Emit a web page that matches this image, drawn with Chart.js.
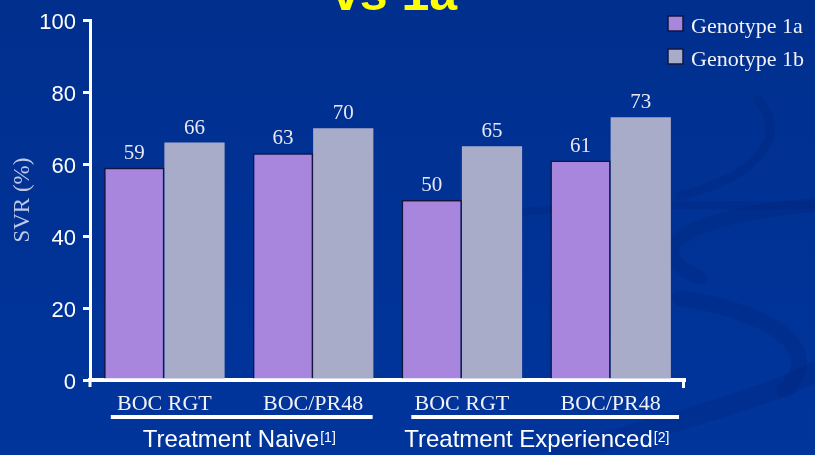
<!DOCTYPE html>
<html>
<head>
<meta charset="utf-8">
<script src="https://cdn.jsdelivr.net/npm/chart.js@4/dist/chart.umd.min.js"></script>
<style>
  html, body { margin: 0; padding: 0; background: #003399; overflow: hidden; }
  canvas { display: block; }
</style>
</head>
<body>
<canvas id="chart" width="815" height="455"></canvas>
<script>
// SVR rates by regimen and genotype
const categories = ['BOC RGT', 'BOC/PR48', 'BOC RGT', 'BOC/PR48'];
const seriesNames = ['Genotype 1a', 'Genotype 1b'];
const genotype1a = [59, 63, 50, 61];
const genotype1b = [66, 70, 65, 73];
const groupNames = ['Treatment Naive', 'Treatment Experienced'];
const groupRefs = ['[1]', '[2]'];
const groupSpans = [[0, 1], [2, 3]];
const yMin = 0, yMax = 100, yStep = 20;
const titleText = 'vs 1a';
const yTitle = 'SVR (%)';

const SERIF = '"Liberation Serif", "Times New Roman", serif';
const SANS = '"Liberation Sans", Arial, sans-serif';

// slide background with soft swoosh bands
const backdrop = {
  id: 'backdrop',
  beforeDraw(chart) {
    const { ctx, width, height } = chart;
    ctx.save();
    const g = ctx.createLinearGradient(0, 0, 0, height);
    g.addColorStop(0, '#002f8e');
    g.addColorStop(1, '#00359c');
    ctx.fillStyle = g;
    ctx.fillRect(0, 0, width, height);
    ctx.strokeStyle = 'rgba(0, 28, 110, 0.2)';
    ctx.lineCap = 'round';
    const band = (w, pts) => {
      ctx.lineWidth = w;
      ctx.beginPath();
      ctx.moveTo(pts[0], pts[1]);
      ctx.bezierCurveTo(pts[2], pts[3], pts[4], pts[5], pts[6], pts[7]);
      ctx.stroke();
    };
    band(9, [680, 196, 760, 175, 790, 135, 758, 100]);
    band(14, [815, 205, 700, 215, 630, 245, 700, 278]);
    band(8, [430, 232, 500, 205, 600, 205, 815, 205]);
    band(16, [680, 298, 760, 310, 830, 345, 785, 390]);
    band(20, [560, 455, 680, 420, 760, 400, 815, 372]);
    // cut-off slide title
    ctx.fillStyle = '#ffff00';
    ctx.font = 'bold 50px ' + SANS;
    ctx.textBaseline = 'alphabetic';
    ctx.textAlign = 'left';
    ctx.fillText(titleText, 332, 10);
    ctx.restore();
  }
};

// value labels above each bar
const valueLabels = {
  id: 'valueLabels',
  afterDatasetsDraw(chart) {
    const { ctx } = chart;
    ctx.save();
    ctx.font = '21px ' + SERIF;
    ctx.fillStyle = '#e8e8f2';
    ctx.textAlign = 'center';
    ctx.textBaseline = 'alphabetic';
    chart.data.datasets.forEach((ds, di) => {
      chart.getDatasetMeta(di).data.forEach((bar, i) => {
        ctx.fillText(String(ds.data[i]), bar.x, bar.y - 9);
      });
    });
    ctx.restore();
  }
};

// axis end marks, group underlines, group captions and legend
const decorations = {
  id: 'decorations',
  afterDraw(chart) {
    const { ctx, chartArea: area } = chart;
    const x = chart.scales.x;
    ctx.save();
    ctx.strokeStyle = '#ffffff';
    ctx.lineWidth = 3;
    ctx.beginPath();
    ctx.moveTo(area.left, area.bottom);
    ctx.lineTo(area.left, area.bottom + 7);
    ctx.moveTo(area.right - 1.5, area.bottom);
    ctx.lineTo(area.right - 1.5, area.bottom + 8);
    ctx.stroke();

    const catW = x.getPixelForValue(1) - x.getPixelForValue(0);
    const insets = [[-0.36, 0.40], [-0.34, 0.46]];
    ctx.fillStyle = '#ffffff';
    groupSpans.forEach(([a, b], gi) => {
      const x0 = x.getPixelForValue(a) + insets[gi][0] * catW;
      const x1 = x.getPixelForValue(b) + insets[gi][1] * catW;
      ctx.fillRect(x0, 415, x1 - x0, 4);

      const mid = (x.getPixelForValue(a) + x.getPixelForValue(b)) / 2;
      ctx.font = '24px ' + SANS;
      const w1 = ctx.measureText(groupNames[gi]).width;
      ctx.font = '14px ' + SANS;
      const w2 = ctx.measureText(groupRefs[gi]).width;
      const start = mid - (w1 + w2) / 2;
      ctx.textAlign = 'left';
      ctx.textBaseline = 'alphabetic';
      ctx.font = '24px ' + SANS;
      ctx.fillText(groupNames[gi], start, 447);
      ctx.font = '14px ' + SANS;
      ctx.fillText(groupRefs[gi], start + w1 + 1, 442);
    });

    // legend
    const rows = [33, 66];
    chart.data.datasets.forEach((ds, di) => {
      const y = rows[di];
      ctx.fillStyle = ds.backgroundColor;
      ctx.fillRect(668, y - 17, 15, 15);
      ctx.strokeStyle = '#14143c';
      ctx.lineWidth = 1.5;
      ctx.strokeRect(668, y - 17, 15, 15);
      ctx.fillStyle = '#f2f2f6';
      ctx.font = '22px ' + SERIF;
      ctx.textAlign = 'left';
      ctx.fillText(ds.label, 691, y);
    });
    ctx.restore();
  }
};

new Chart(document.getElementById('chart'), {
  type: 'bar',
  data: {
    labels: categories,
    datasets: [
      {
        label: seriesNames[0],
        data: genotype1a,
        backgroundColor: '#a886dd',
        borderColor: '#14143c',
        borderWidth: 1.5,
        borderSkipped: 'bottom'
      },
      {
        label: seriesNames[1],
        data: genotype1b,
        backgroundColor: '#a9acc9',
        borderWidth: 0
      }
    ]
  },
  options: {
    responsive: false,
    animation: false,
    events: [],
    layout: { padding: { top: 16, right: 130, left: 0, bottom: 0 } },
    categoryPercentage: 0.81,
    barPercentage: 1.0,
    plugins: {
      legend: { display: false },
      tooltip: { enabled: false }
    },
    scales: {
      x: {
        afterFit(scale) { scale.height = 75; },
        grid: { display: false, drawTicks: false },
        border: { display: true, color: '#ffffff', width: 4 },
        ticks: {
          color: '#f2f2f6',
          font: { family: SERIF, size: 22 },
          padding: 11,
          maxRotation: 0,
          autoSkip: false
        }
      },
      y: {
        min: yMin,
        max: yMax,
        afterFit(scale) { scale.width = 90; },
        grid: {
          display: true,
          drawOnChartArea: false,
          drawTicks: true,
          tickLength: 7,
          color: '#ffffff',
          lineWidth: 3
        },
        border: { display: true, color: '#ffffff', width: 3 },
        ticks: {
          stepSize: yStep,
          color: '#ffffff',
          font: { family: SANS, size: 22 },
          padding: 7,
          labelOffset: 3
        },
        title: {
          display: true,
          text: yTitle,
          color: '#c0c8e8',
          font: { family: SERIF, size: 23 },
          padding: { top: 9, bottom: 0 }
        }
      }
    }
  },
  plugins: [backdrop, valueLabels, decorations]
});
</script>
</body>
</html>
